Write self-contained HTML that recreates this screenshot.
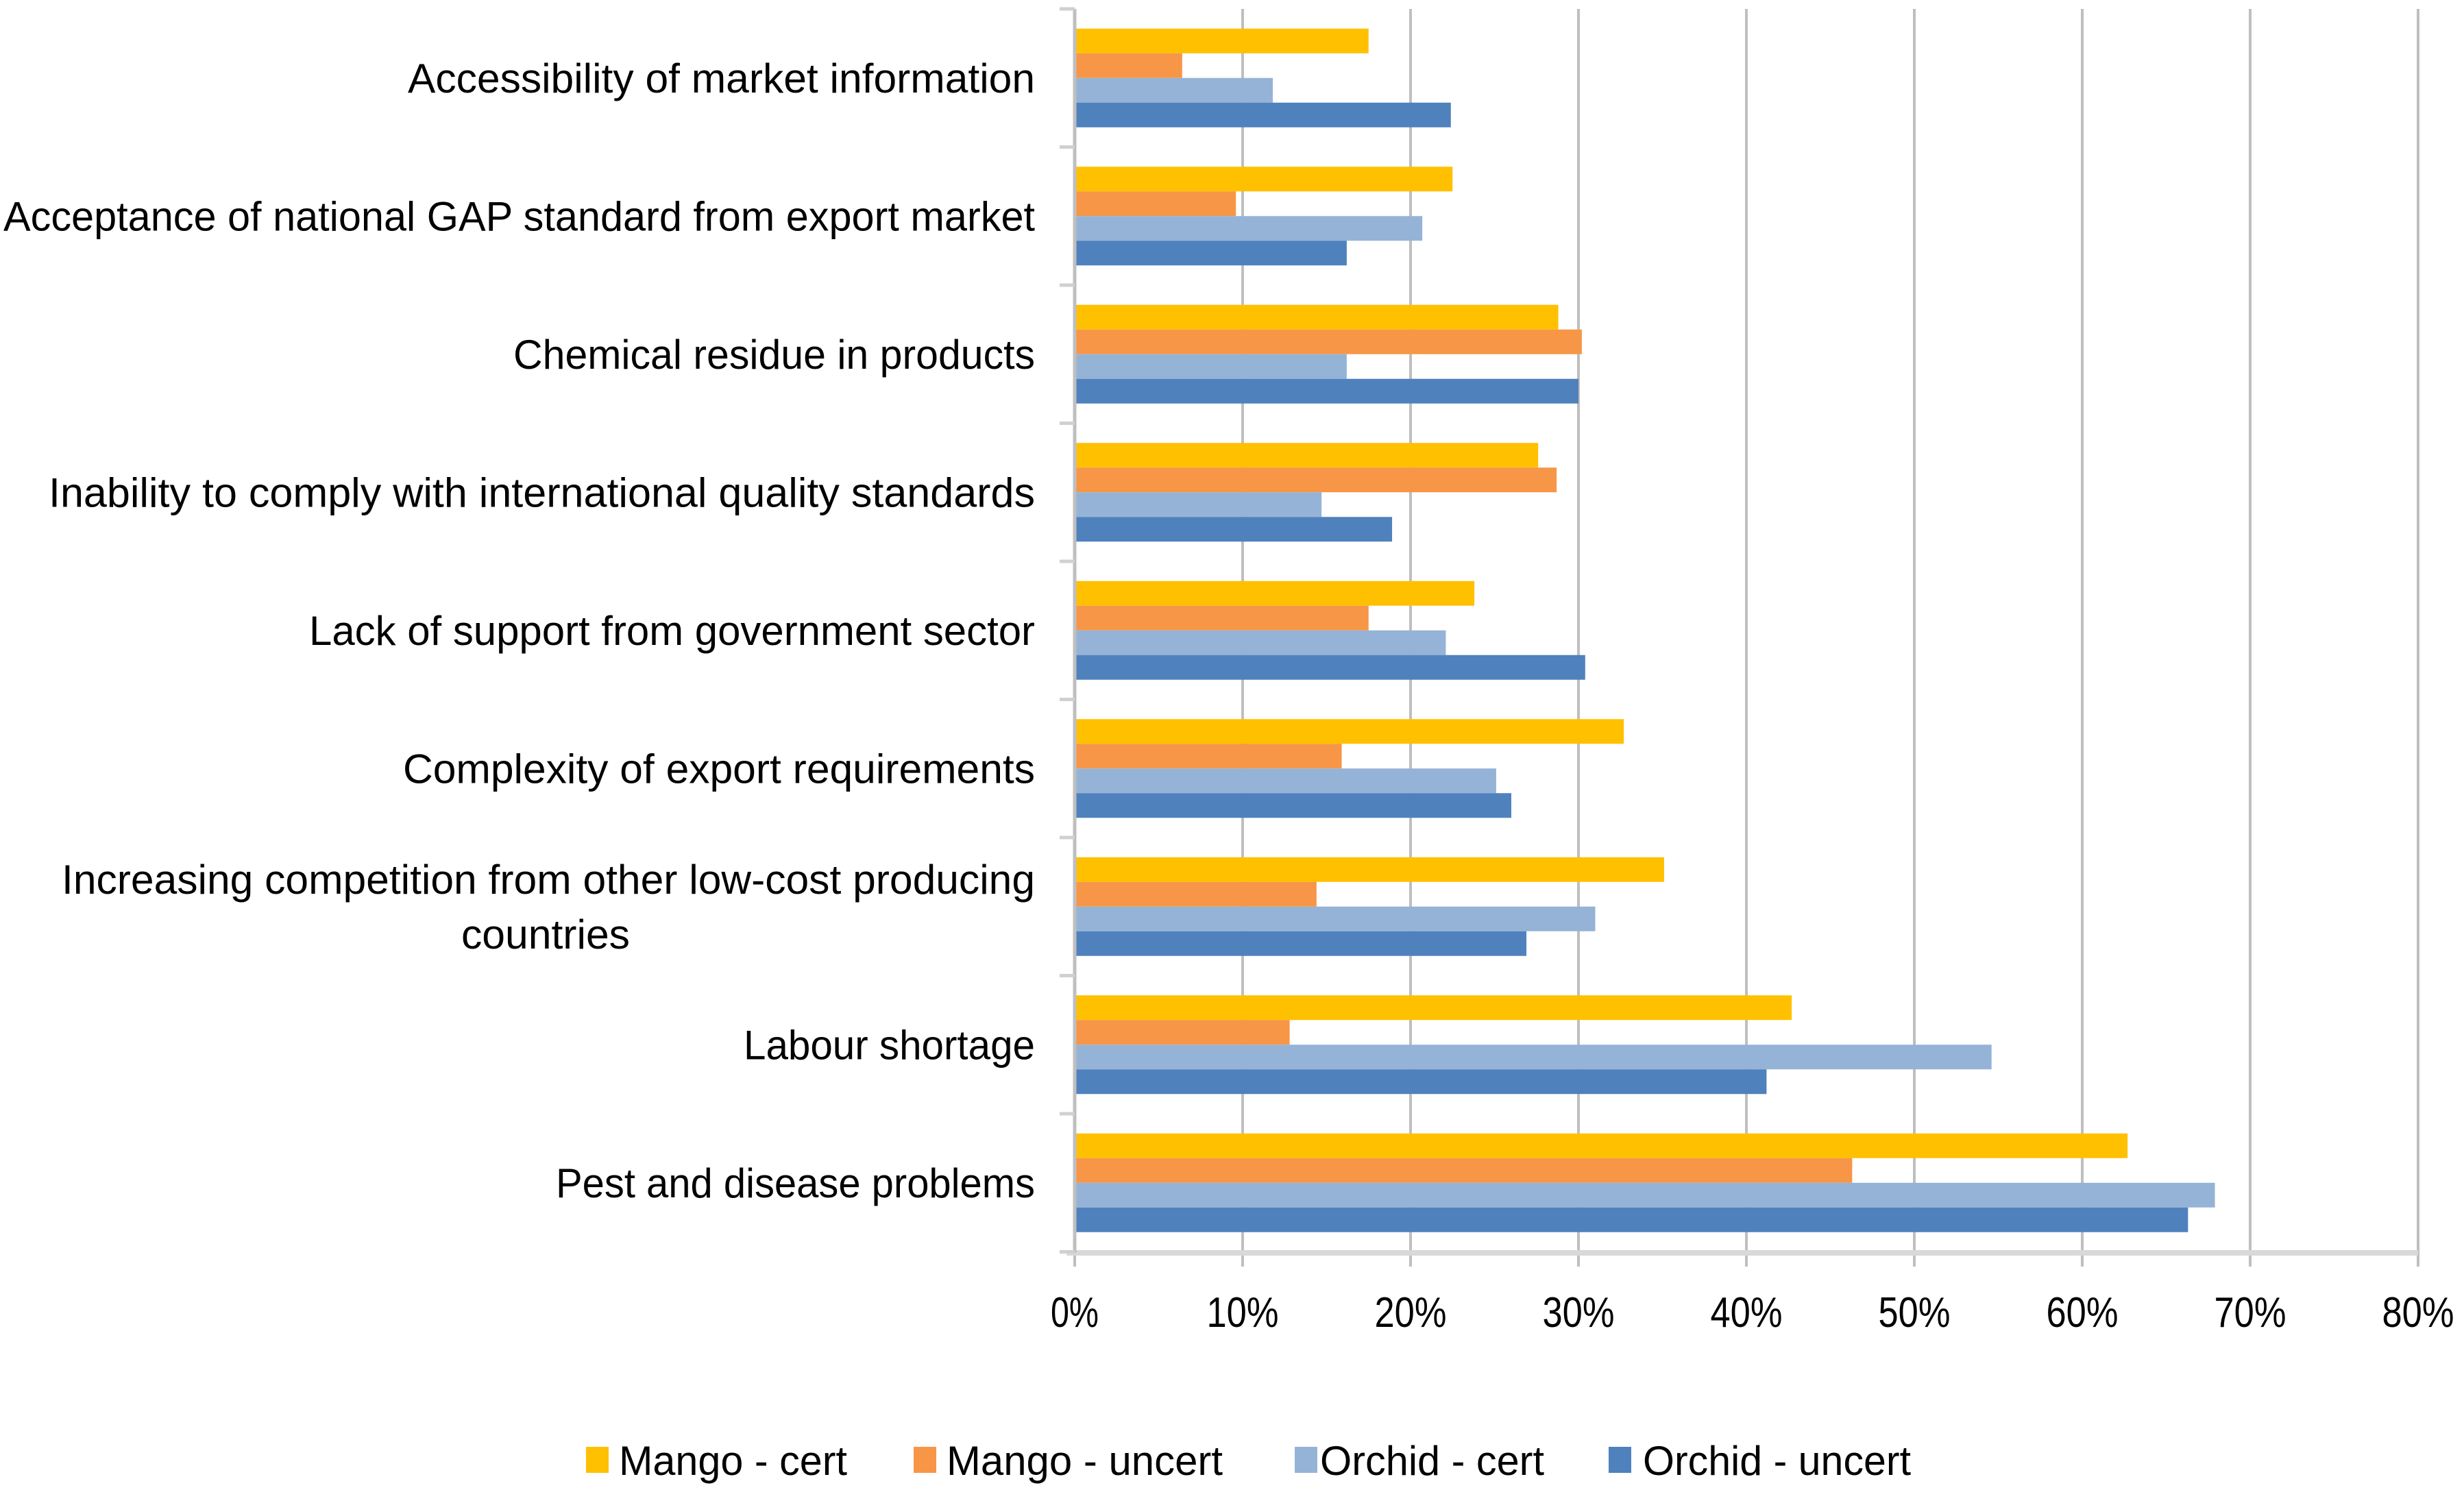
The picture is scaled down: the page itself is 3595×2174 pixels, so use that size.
<!DOCTYPE html>
<html><head><meta charset="utf-8"><style>
html,body{margin:0;padding:0;background:#fff}
svg{display:block}
text{font-family:"Liberation Sans",sans-serif;fill:#000}
</style></head><body>
<svg id="chart" width="3595" height="2174" viewBox="0 0 3595 2174" xmlns="http://www.w3.org/2000/svg">
<g id="grid"></g>
<g id="bars"></g>
<g id="axes"></g>
<g id="labels"></g>
<g id="ticks"></g>
<g id="legend"></g>
</svg>
<script>
const categories = [
  ["Accessibility of market information"],
  ["Acceptance of national GAP standard from export market"],
  ["Chemical residue in products"],
  ["Inability to comply with international quality standards"],
  ["Lack of support from government sector"],
  ["Complexity of export requirements"],
  ["Increasing competition from other low-cost producing","countries"],
  ["Labour shortage"],
  ["Pest and disease problems"]
];
const seriesNames = ["Mango - cert","Mango - uncert","Orchid - cert","Orchid - uncert"];
const mangoCert   = [17.5, 22.5, 28.8, 27.6, 23.8, 32.7, 35.1, 42.7, 62.7];
const mangoUncert = [6.4, 9.6, 30.2, 28.7, 17.5, 15.9, 14.4, 12.8, 46.3];
const orchidCert  = [11.8, 20.7, 16.2, 14.7, 22.1, 25.1, 31.0, 54.6, 67.9];
const orchidUncert= [22.4, 16.2, 30.0, 18.9, 30.4, 26.0, 26.9, 41.2, 66.3];
const tickValues = [0,10,20,30,40,50,60,70,80];
const tickLabels = ["0%","10%","20%","30%","40%","50%","60%","70%","80%"];

const NS="http://www.w3.org/2000/svg";
const colors=["#FFC000","#F79646","#95B3D7","#4F81BD"];
const series=[mangoCert,mangoUncert,orchidCert,orchidUncert];
const X0=1568, PXPER=24.5, TOP=13, CATH=201.5, AXY=1828;
const xs=v=>X0+v*PXPER;
const catTop=i=>TOP+i*CATH;
const labelLeft=[[595],[5],[749],[71],[451],[588],[90,673],[1085],[811]];
const labelRight=[[1510],[1510],[1510],[1510],[1510],[1510],[1510,919],[1510],[1510]];
function mk(tag,attrs,parent){const e=document.createElementNS(NS,tag);for(const k in attrs)e.setAttribute(k,attrs[k]);parent.appendChild(e);return e;}
const G=id=>document.getElementById(id);

tickValues.forEach((v,i)=>{
  if(v>0){const l=mk('line',{x1:xs(v),x2:xs(v),y1:TOP,y2:AXY,stroke:'#BFBFBF','stroke-width':4},G('grid'));
  
  }
  const t=mk('line',{x1:xs(v),x2:xs(v),y1:AXY,y2:1848,stroke:'#BFBFBF','stroke-width':4},G('axes'));
  
  
  const tx=mk('text',{x:xs(v),y:1936,'text-anchor':'middle','font-size':62,textLength:tickLabels[i].length*35,lengthAdjust:'spacingAndGlyphs'},G('ticks'));
  tx.textContent=tickLabels[i];
  
  
});
const ax=mk('line',{x1:1556,x2:xs(80),y1:AXY,y2:AXY,stroke:'#D9D9D9','stroke-width':8},G('axes'));


const ay=mk('line',{x1:X0,x2:X0,y1:TOP,y2:AXY,stroke:'#BFBFBF','stroke-width':5},G('axes'));


for(let i=0;i<=9;i++){
  const t=mk('line',{x1:1546,x2:X0,y1:catTop(i),y2:catTop(i),stroke:'#D0D0D0','stroke-width':5},G('axes'));
  
  
}
const BH=36, PAD=(CATH-4*BH)/2;
categories.forEach((lines,i)=>{
  series.forEach((s,k)=>{
    const r=mk('rect',{x:X0,y:catTop(i)+PAD+k*BH,width:xs(s[i])-X0,height:BH,fill:colors[k]},G('bars'));
    
    
  });
  const cy=catTop(i)+CATH/2;
  lines.forEach((ln,j)=>{
    const by=cy+21+(j-(lines.length-1)/2)*80;
    const L=labelLeft[i][j], R=labelRight[i][j];
    const t=mk('text',{x:L,y:by,'font-size':60,textLength:R-L,lengthAdjust:'spacingAndGlyphs'},G('labels'));
    t.textContent=ln;
    
    
  });
});
const legSq=[855,1333,1889,2347], legTx=[903,1381,1926,2397], legW=[333,403,327,391];
seriesNames.forEach((n,k)=>{
  const g=mk('g',{},G('legend'));
  
  
  mk('rect',{x:legSq[k],y:2111,width:33,height:38,fill:colors[k]},g);
  const t=mk('text',{x:legTx[k],y:2152,'font-size':60,textLength:legW[k],lengthAdjust:'spacingAndGlyphs'},g);
  t.textContent=n;
});
</script>
</body></html>
